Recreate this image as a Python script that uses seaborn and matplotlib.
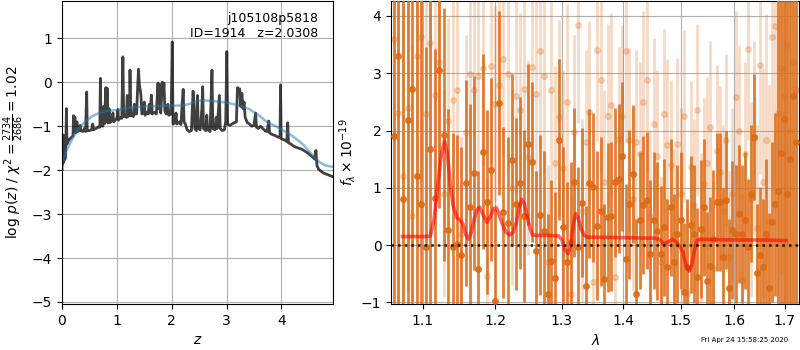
import numpy as np
import pandas as pd
import matplotlib
matplotlib.use('Agg')
import matplotlib.pyplot as plt
from matplotlib.ticker import FixedLocator, FixedFormatter, NullLocator
import seaborn as sns

# ── Left panel: redshift PDF ─────────────────────────────────────────────────
pz_z = [0.000, 0.010, 0.015, 0.025, 0.032, 0.045, 0.055, 0.070, 0.080, 0.090,
        0.110, 0.130, 0.150, 0.175, 0.200, 0.210, 0.220, 0.235, 0.245, 0.265,
        0.272, 0.280, 0.310, 0.330, 0.345, 0.380, 0.410, 0.430, 0.450, 0.460,
        0.500, 0.540, 0.560, 0.575, 0.620, 0.660, 0.690, 0.700, 0.712, 0.740,
        0.760, 0.772, 0.800, 0.810, 0.825, 0.835, 0.860, 0.872, 0.900, 0.930,
        0.942, 0.970, 1.000, 1.020, 1.032, 1.060, 1.090, 1.110, 1.125, 1.150,
        1.175, 1.190, 1.200, 1.230, 1.240, 1.255, 1.280, 1.300, 1.320, 1.335,
        1.360, 1.380, 1.395, 1.410, 1.425, 1.440, 1.455, 1.480, 1.500, 1.515,
        1.540, 1.570, 1.590, 1.605, 1.630, 1.645, 1.680, 1.720, 1.750, 1.765,
        1.785, 1.800, 1.830, 1.845, 1.860, 1.875, 1.900, 1.930, 1.945, 1.990,
        2.010, 2.025, 2.060, 2.080, 2.095, 2.140, 2.170, 2.190, 2.210, 2.225,
        2.250, 2.280, 2.320, 2.360, 2.390, 2.405, 2.420, 2.450, 2.470, 2.485,
        2.520, 2.550, 2.565, 2.580, 2.620, 2.640, 2.655, 2.700, 2.735, 2.750,
        2.790, 2.810, 2.830, 2.870, 2.885, 2.920, 2.960, 2.985, 3.005, 3.020,
        3.060, 3.100, 3.140, 3.180, 3.200, 3.220, 3.240, 3.260, 3.280, 3.300,
        3.320, 3.340, 3.380, 3.420, 3.460, 3.500, 3.530, 3.545, 3.580, 3.620,
        3.660, 3.700, 3.740, 3.770, 3.785, 3.820, 3.860, 3.900, 3.940, 3.975,
        3.985, 3.995, 4.030, 4.070, 4.100, 4.115, 4.130, 4.170, 4.220, 4.270,
        4.320, 4.370, 4.420, 4.470, 4.520, 4.570, 4.610, 4.630, 4.650, 4.680,
        4.720, 4.760, 4.800, 4.840, 4.880, 4.920, 4.950]
pz_logp = [-1.98, -1.55, -1.85, -1.20, -1.80, -1.45, -1.75, -1.50, -0.60, -1.40,
           -1.35, -1.30, -1.28, -1.25, -1.22, -0.76, -1.05, -0.80, -1.15, -1.12,
           -0.90, -1.12, -1.10, -0.98, -1.10, -1.12, -1.05, -1.12, -0.22, -1.10,
           -1.10, -1.08, -0.95, -1.08, -1.05, -1.02, -1.02, 0.09, -0.98, -1.00,
           -0.55, -0.95, -0.12, -0.90, -0.14, -0.92, -0.60, -0.92, -0.88, -0.70,
           -0.90, -0.86, -0.82, -0.62, -0.86, -0.80, -0.82, 0.58, -0.78, -0.75,
           -0.80, -0.30, -0.78, -0.74, 0.28, -0.76, -0.72, -0.78, -0.50, -0.72,
           -0.72, -0.10, 0.30, -0.05, -0.16, -0.30, -0.72, -0.70, -0.45, -0.75,
           -0.68, -0.72, -0.50, -0.70, -0.29, -0.72, -0.68, -0.72, -0.02, -0.60,
           -0.05, -0.70, 0.00, -0.15, -0.02, -0.65, -0.72, -0.50, -0.75, -0.72,
           0.92, -0.95, -0.92, -0.70, -0.95, -0.90, -0.96, -0.50, -0.16, -0.90,
           -0.95, -1.08, -1.12, -1.10, -0.20, -0.50, -1.05, -1.10, -0.30, -1.05,
           -1.08, -0.61, -0.10, -1.05, -1.10, -0.75, -1.08, -1.12, 0.28, -1.05,
           -1.08, -0.80, -1.05, -0.30, -1.05, -1.10, -1.08, -0.90, 0.70, -0.95,
           -0.98, -0.95, -0.92, -0.90, -0.12, -0.20, -0.15, -0.55, -0.25, -0.60,
           -0.45, -0.80, -0.92, -0.95, -1.00, -0.98, -0.70, -1.02, -1.05, -1.00,
           -1.05, -1.10, -1.12, -0.88, -1.15, -1.18, -1.20, -1.22, -1.25, -1.25,
           -0.06, -1.28, -1.30, -1.32, -1.35, -0.92, -1.38, -1.40, -1.45, -1.48,
           -1.50, -1.52, -1.56, -1.60, -1.65, -1.70, -1.75, -1.55, -1.90, -1.98,
           -2.02, -2.06, -2.08, -2.10, -2.12, -2.14, -2.15]

chi_z = [0.0, 0.1, 0.2, 0.3, 0.44, 0.55, 0.69, 0.8, 1.0, 1.2, 1.5, 1.8, 2.0,
         2.2, 2.33, 2.45, 2.58, 2.8, 3.0, 3.2, 3.4, 3.6, 3.73, 3.9, 4.0, 4.2,
         4.4, 4.6, 4.7, 4.8, 4.95]
chi_val = [-1.83, -1.50, -1.26, -1.05, -0.88, -0.77, -0.69, -0.66, -0.63, -0.58,
           -0.55, -0.54, -0.53, -0.53, -0.49, -0.43, -0.41, -0.43, -0.46, -0.52,
           -0.60, -0.76, -0.90, -1.00, -1.07, -1.22, -1.42, -1.70, -1.82, -1.89,
           -1.93]

# ── Right panel: spectrum ────────────────────────────────────────────────────
wave = [1.062, 1.068, 1.074, 1.080, 1.086, 1.092, 1.098, 1.104, 1.110, 1.116,
        1.122, 1.128, 1.134, 1.140, 1.146, 1.152, 1.158, 1.164, 1.170, 1.176,
        1.182, 1.188, 1.194, 1.200, 1.206, 1.212, 1.218, 1.224, 1.230, 1.236,
        1.242, 1.248, 1.254, 1.260, 1.266, 1.272, 1.278, 1.284, 1.290, 1.296,
        1.302, 1.308, 1.314, 1.320, 1.326, 1.332, 1.338, 1.344, 1.350, 1.356,
        1.362, 1.368, 1.374, 1.380, 1.386, 1.392, 1.398, 1.404, 1.410, 1.416,
        1.422, 1.428, 1.434, 1.440, 1.446, 1.452, 1.458, 1.464, 1.470, 1.476,
        1.482, 1.488, 1.494, 1.500, 1.506, 1.512, 1.518, 1.524, 1.530, 1.536,
        1.542, 1.548, 1.554, 1.560, 1.566, 1.572, 1.578, 1.584, 1.590, 1.596,
        1.602, 1.608, 1.614, 1.620, 1.626, 1.632, 1.638, 1.644, 1.650, 1.656,
        1.662, 1.668, 1.674, 1.680, 1.686, 1.692, 1.698, 1.704, 1.710, 1.716,
        1.722]

flux_a = [1.90, 3.30, 0.80, 2.18, 2.73, 1.21, 0.72, -0.04, 1.67, 0.82,
          3.05, 1.93, 0.27, -0.04, 0.02, -0.18, 1.08, 0.67, 1.26, -0.41,
          1.63, 0.75, 1.32, -0.97, 2.48, 0.57, 0.38, 1.48, 0.72, 1.08,
          0.51, 1.76, 1.45, -0.10, 0.53, 0.25, -0.85, -0.27, -0.57, 1.84,
          0.31, -0.30, 0.05, 1.10, -0.04, 0.74, -0.71, 1.08, 1.01, 0.34,
          0.59, -0.59, 0.49, 0.50, 1.10, 1.16, 1.55, -0.24, 0.71, 1.24,
          -0.85, 0.43, 0.70, 0.78, -0.16, 0.43, 0.25, -0.16, 0.31, -0.39,
          0.66, -0.30, 0.19, 0.43, -0.81, -0.39, 0.36, 0.19, -0.56, 0.28,
          0.66, -0.62, -0.36, 0.11, 0.75, 0.75, -0.20, 0.79, -0.75, 0.26,
          0.19, 0.54, 0.19, 0.43, -0.04, 0.90, 1.88, -0.48, -0.18, -0.39,
          0.20, -0.74, 0.40, 0.71, 0.95, 1.60, 2.20, 0.90, 1.50, 2.60,
          1.80]
err_a = [4.5, 4.8, 4.2, 4.5, 4.0, 4.2, 3.8, 3.5, 3.0, 2.6,
         2.4, 2.2, 2.1, 2.0, 1.9, 1.9, 1.8, 1.8, 1.7, 1.7,
         1.7, 1.6, 1.6, 1.6, 1.6, 1.5, 1.5, 1.5, 1.5, 1.5,
         1.5, 1.4, 1.4, 1.4, 1.4, 1.4, 1.4, 1.4, 1.5, 1.4,
         1.4, 1.4, 1.4, 1.3, 1.4, 1.3, 1.4, 1.3, 1.3, 1.3,
         1.3, 1.3, 1.3, 1.3, 1.3, 1.3, 1.3, 1.3, 1.3, 1.2,
         1.3, 1.2, 1.2, 1.2, 1.3, 1.2, 1.2, 1.2, 1.2, 1.2,
         1.2, 1.2, 1.2, 1.2, 1.2, 1.2, 1.2, 1.2, 1.2, 1.2,
         1.2, 1.2, 1.2, 1.2, 1.2, 1.2, 1.2, 1.2, 1.2, 1.2,
         1.2, 1.2, 1.2, 1.2, 1.2, 1.2, 1.1, 1.2, 1.2, 1.2,
         1.3, 1.3, 1.4, 1.6, 3.5, 4.0, 4.5, 4.8, 5.0, 5.0,
         5.0]

flux_b = [3.60, 2.30, 1.20, 2.40, 0.50, 3.30, 3.64, 2.28, 3.52, 2.62,
          3.20, 0.90, 2.16, 2.54, 2.70, 0.20, 1.97, 2.99, 2.70, 2.95,
          3.10, -0.53, 3.13, 2.47, 2.79, 3.25, 2.98, 1.00, 2.61, 2.35,
          2.73, 1.53, 3.11, 2.64, 3.39, 2.96, -0.30, 2.70, 1.43, 2.23,
          1.35, 2.50, -0.85, 1.97, 3.84, 0.60, 1.80, 2.32, -0.65, 3.41,
          2.89, 1.10, 2.26, 2.45, -0.56, 1.86, 2.25, 3.39, 1.84, 0.80,
          1.80, 1.59, 2.49, 2.88, 0.50, 2.12, 1.56, -0.30, 2.28, 1.75,
          1.39, 0.20, 1.76, 0.90, 2.25, -0.85, 1.36, 0.70, 2.36, 0.10,
          1.07, 1.43, 2.07, -0.40, 1.65, 1.27, 0.60, 1.83, -0.20, 0.90,
          2.58, 1.99, -0.60, 1.59, 3.43, 0.80, 1.87, 0.30, 3.15, 1.10,
          1.83, 0.40, 3.63, 3.82, 2.30, 3.10, 2.60, 3.50, 2.00, 3.20,
          2.70]
err_b = [4.5, 4.0, 3.5, 3.2, 3.0, 2.8, 2.5, 2.2, 2.0, 1.9,
         1.9, 1.8, 1.8, 1.8, 1.7, 1.7, 1.7, 1.7, 1.7, 1.7,
         1.7, 1.7, 1.7, 1.7, 1.7, 1.7, 1.7, 1.7, 1.7, 1.7,
         1.7, 1.7, 1.7, 1.7, 1.7, 1.7, 1.7, 1.7, 1.7, 1.7,
         1.7, 1.7, 1.7, 1.7, 1.7, 1.6, 1.6, 1.6, 1.6, 1.6,
         1.6, 1.6, 1.6, 1.6, 1.6, 1.6, 1.6, 1.6, 1.6, 1.6,
         1.6, 1.6, 1.6, 1.6, 1.5, 1.5, 1.5, 1.5, 1.5, 1.5,
         1.5, 1.5, 1.5, 1.5, 1.5, 1.5, 1.5, 1.5, 1.5, 1.5,
         1.5, 1.5, 1.5, 1.5, 1.5, 1.5, 1.5, 1.5, 1.5, 1.5,
         1.5, 1.5, 1.5, 1.6, 1.6, 1.7, 1.7, 1.8, 1.9, 2.0,
         2.2, 2.4, 2.6, 2.8, 3.2, 3.6, 4.0, 4.5, 4.8, 5.0,
         5.0]

model_wave = [1.0735, 1.090, 1.105, 1.110, 1.115, 1.120, 1.125, 1.129, 1.133, 1.137,
              1.141, 1.146, 1.150, 1.154, 1.158, 1.162, 1.166, 1.170, 1.174, 1.178,
              1.183, 1.188, 1.193, 1.198, 1.202, 1.206, 1.211, 1.216, 1.221, 1.226,
              1.231, 1.235, 1.239, 1.243, 1.247, 1.251, 1.255, 1.260, 1.265, 1.280,
              1.295, 1.300, 1.305, 1.310, 1.314, 1.318, 1.322, 1.326, 1.330, 1.335,
              1.340, 1.345, 1.400, 1.455, 1.462, 1.470, 1.478, 1.485, 1.492, 1.498,
              1.504, 1.510, 1.515, 1.520, 1.525, 1.530, 1.535, 1.545, 1.600, 1.650,
              1.702]
model_flux = [0.15, 0.15, 0.15, 0.16, 0.45, 1.05, 1.60, 1.82, 1.60, 1.05,
              0.68, 0.48, 0.44, 0.38, 0.20, 0.10, 0.22, 0.45, 0.62, 0.66,
              0.52, 0.40, 0.50, 0.64, 0.65, 0.52, 0.35, 0.22, 0.18, 0.22,
              0.40, 0.65, 0.80, 0.72, 0.50, 0.30, 0.18, 0.17, 0.17, 0.17,
              0.16, 0.10, -0.08, -0.15, -0.02, 0.35, 0.55, 0.48, 0.30, 0.18,
              0.14, 0.14, 0.13, 0.12, 0.10, 0.02, 0.06, 0.10, 0.06, -0.02,
              -0.12, -0.38, -0.45, -0.35, -0.08, 0.09, 0.10, 0.10, 0.09, 0.09,
              0.08]

SPEC_COLOR = '#dc6a14'

fig = plt.figure(figsize=(8, 3.5), dpi=100)
ax1 = fig.add_axes([0.0775, 0.131, 0.339, 0.866])
ax2 = fig.add_axes([0.489, 0.131, 0.510, 0.866])

# ── p(z) ──
sns.lineplot(x=pz_z, y=pz_logp, ax=ax1, color='k', alpha=0.75, lw=2.0,
             sort=False, estimator=None)
sns.lineplot(x=chi_z, y=chi_val, ax=ax1, color='tab:blue', alpha=0.5, lw=1.8,
             sort=False, estimator=None)
ax1.set_xlim(0, 4.945)
ax1.set_ylim(-5.05, 1.85)
ax1.set_xticks([0, 1, 2, 3, 4])
ax1.set_yticks([-5, -4, -3, -2, -1, 0, 1])
ax1.grid(True, color='#b0b0b0', lw=0.8)
ax1.set_axisbelow(True)
ax1.set_xlabel(r'$z$')
ax1.set_ylabel(r'log $p(z)$ / $\chi^2=\frac{2734}{2686}=1.02$')
ax1.text(0.945, 0.965, 'j105108p5818\nID=1914   z=2.0308', ha='right', va='top',
         transform=ax1.transAxes, fontsize=9)

# ── spectrum ──
ax2.errorbar(wave, flux_b, yerr=err_b, fmt='o', color=SPEC_COLOR, alpha=0.25,
             ms=4, elinewidth=2.0, capsize=0, zorder=2)
ax2.errorbar(wave, flux_a, yerr=err_a, fmt='o', color=SPEC_COLOR, alpha=0.85,
             ms=4, elinewidth=2.0, capsize=0, zorder=3)
sns.lineplot(x=model_wave, y=model_flux, ax=ax2, color='red', alpha=0.6, lw=2.6,
             sort=False, estimator=None, zorder=4)
ax2.axhline(0, color='k', ls=':', lw=1.8, alpha=0.85, zorder=5)
ax2.set_xscale('log')
ax2.set_xlim(1.059, 1.7295)
ax2.set_ylim(-1.03, 4.26)
xt = [1.1, 1.2, 1.3, 1.4, 1.5, 1.6, 1.7]
ax2.xaxis.set_major_locator(FixedLocator(xt))
ax2.xaxis.set_major_formatter(FixedFormatter([f'{v:.1f}' for v in xt]))
ax2.xaxis.set_minor_locator(NullLocator())
ax2.set_yticks([-1, 0, 1, 2, 3, 4])
ax2.grid(True, color='#b0b0b0', lw=0.8)
ax2.set_axisbelow(True)
ax2.set_xlabel(r'$\lambda$')
ax2.set_ylabel(r'$f_\lambda\times10^{-19}$', labelpad=2)

fig.text(0.985, 0.028, 'Fri Apr 24 15:58:25 2020', ha='right', va='center',
         fontsize=5)

fig.savefig('out.png', dpi=100)
